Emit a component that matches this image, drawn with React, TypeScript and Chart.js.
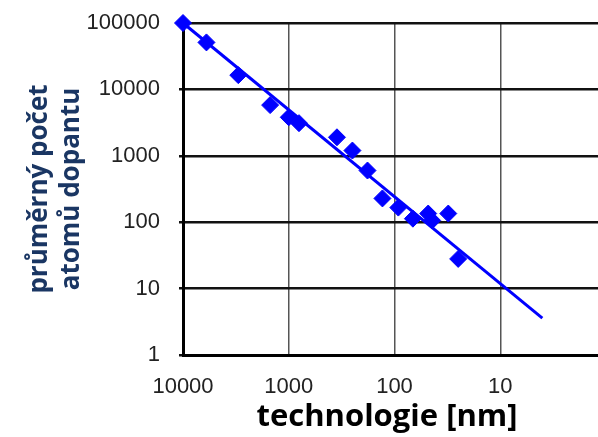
import React, { useEffect, useRef } from "react";
import { Chart, registerables } from "chart.js";

Chart.register(...registerables);

const technologyNm = [10000, 6000, 3000, 1500, 1000, 800, 350, 250, 180, 130, 92, 67, 48, 44, 31, 25];
const dopantAtoms = [100000, 51000, 16400, 5800, 3800, 3100, 1900, 1200, 600, 228, 166, 113, 135, 106, 135, 28];
const trendX = [10000, 4];
const trendY = [100000, 3.6];
const xTickValues = [1, 10, 100, 1000, 10000];
const yTickValues = [1, 10, 100, 1000, 10000, 100000];
const xTitle = "technologie [nm]";
const yTitle = ["průměrný počet", "atomů dopantu"];

const BLUE = "#0000FF";

const xTitlePlugin = {
  id: "xTitleText",
  afterDraw(chart: any) {
    const ctx = chart.ctx;
    ctx.save();
    ctx.font = 'bold 31px "Open Sans"';
    ctx.fillStyle = "#000";
    ctx.textAlign = "center";
    ctx.textBaseline = "middle";
    ctx.fillText(xTitle, 387, 417);
    ctx.restore();
  },
};

export default function App() {
  const ref = useRef<HTMLCanvasElement | null>(null);

  useEffect(() => {
    if (!ref.current) return;
    const chart = new Chart(ref.current, {
      type: "scatter",
      data: {
        datasets: [
          {
            label: "trend",
            data: trendX.map((x, i) => ({ x, y: trendY[i] })),
            showLine: true,
            borderColor: BLUE,
            borderWidth: 3,
            pointRadius: 0,
            clip: false,
            order: 2,
          },
          {
            label: "data",
            data: technologyNm.map((x, i) => ({ x, y: dopantAtoms[i] })),
            pointStyle: "rectRot",
            pointRadius: 8.5,
            backgroundColor: BLUE,
            borderColor: BLUE,
            borderWidth: 1,
            showLine: false,
            clip: false,
            order: 1,
          },
        ],
      },
      options: {
        responsive: false,
        animation: false,
        layout: { padding: { top: 23, right: 34, left: 0, bottom: 0 } },
        plugins: { legend: { display: false }, tooltip: { enabled: false } },
        scales: {
          x: {
            type: "logarithmic",
            reverse: true,
            min: 1,
            max: 10000,
            afterBuildTicks: (s: any) => {
              s.ticks = xTickValues.map((v) => ({ value: v }));
            },
            afterFit: (s: any) => {
              s.height = 437 - 355;
              s.paddingLeft = 0;
              s.paddingRight = 0;
            },
            grid: { color: "#555", lineWidth: 1.5, drawTicks: false },
            border: { color: "#000", width: 3 },
            ticks: {
              padding: 19,
              color: "#222",
              font: { family: "Liberation Sans", size: 22 },
              maxRotation: 0,
              autoSkip: false,
              callback: (v: any) => String(v),
            },
            title: { display: false },
          },
          y: {
            type: "logarithmic",
            min: 1,
            max: 100000,
            afterBuildTicks: (s: any) => {
              s.ticks = yTickValues.map((v) => ({ value: v }));
            },
            afterFit: (s: any) => {
              s.width = 183;
              s.paddingTop = 0;
              s.paddingBottom = 0;
            },
            grid: { color: "#111", lineWidth: 2.5, tickLength: 4, tickColor: "#111", tickWidth: 2.5 },
            border: { color: "#000", width: 3 },
            ticks: {
              padding: 19,
              color: "#222",
              font: { family: "Liberation Sans", size: 22 },
              autoSkip: false,
              callback: (v: any) => String(v),
            },
            title: {
              display: true,
              text: yTitle,
              color: "#1A3663",
              font: { family: "Open Sans", size: 26, weight: "bold", lineHeight: 1.22 },
              padding: { top: 24, bottom: 0 },
            },
          },
        },
      },
      plugins: [xTitlePlugin],
    });
    return () => chart.destroy();
  }, []);

  return (
    <div style={{ position: "fixed", left: 0, top: 0, width: 598, height: 437, overflow: "hidden", background: "#fff" }}>
      <canvas ref={ref} width={640} height={437} style={{ width: 640, height: 437, display: "block" }} />
    </div>
  );
}
